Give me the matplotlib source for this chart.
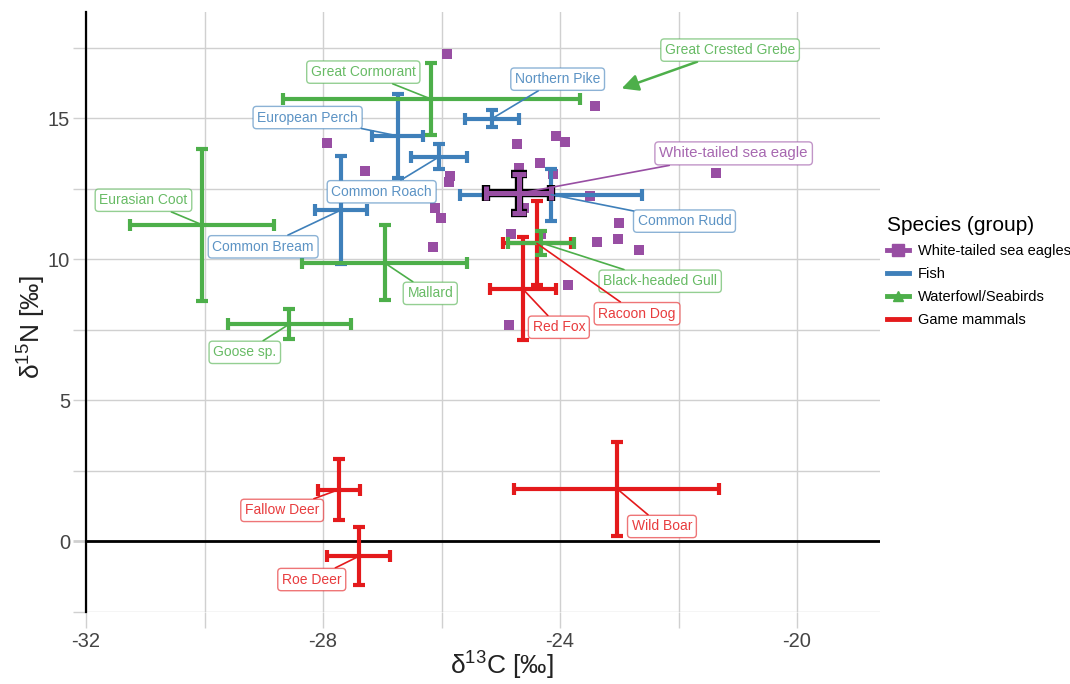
# Stable isotope biplot: white-tailed sea eagles and their prey groups

import numpy as np
import matplotlib
matplotlib.use('Agg')
import matplotlib.pyplot as plt
from matplotlib.lines import Line2D
from matplotlib.colors import to_rgba

plt.rcParams['font.family'] = ['Liberation Sans', 'DejaVu Sans']
plt.rcParams['mathtext.fontset'] = 'custom'
plt.rcParams['mathtext.rm'] = 'Liberation Sans'
plt.rcParams['mathtext.it'] = 'Liberation Sans:italic'

# individual eagles
eagle_c13 = [-25.91, -27.94, -27.29, -25.85, -25.87, -26.11, -26.01, -26.14, -23.41,
             -24.73, -24.06, -23.92, -24.34, -24.70, -24.12, -21.37, -23.49, -24.60,
             -23.00, -24.83, -23.38, -23.03, -22.66, -24.32, -23.86, -24.86]
eagle_n15 = [17.28, 14.12, 13.13, 12.95, 12.73, 11.82, 11.46, 10.44, 15.43,
             14.10, 14.37, 14.14, 13.41, 13.24, 13.01, 13.06, 12.24, 11.80,
             11.27, 10.91, 10.61, 10.70, 10.34, 10.89, 9.08, 7.68]

# eagle mean +- sd
eagle_mean_c13 = -24.70
eagle_mean_n15 = 12.33
eagle_sd_c13 = 0.55
eagle_sd_n15 = 0.70

# fish
fish_names = ['European Perch', 'Common Roach', 'Common Bream', 'Northern Pike', 'Common Rudd']
fish_c13 = [-26.74, -26.04, -27.70, -25.15, -24.15]
fish_c13_sd = [0.43, 0.47, 0.44, 0.46, 1.53]
fish_n15 = [14.37, 13.63, 11.74, 14.98, 12.29]
fish_n15_sd = [1.48, 0.44, 1.91, 0.31, 0.92]

# waterfowl / seabirds
bird_names = ['Great Cormorant', 'Eurasian Coot', 'Mallard', 'Goose sp.', 'Black-headed Gull']
bird_c13 = [-26.17, -30.04, -26.96, -28.57, -24.32]
bird_c13_sd = [2.50, 1.22, 1.39, 1.04, 0.55]
bird_n15 = [15.67, 11.22, 9.87, 7.70, 10.58]
bird_n15_sd = [1.28, 2.69, 1.33, 0.53, 0.43]

# great crested grebe (mean only)
grebe_c13 = -22.96
grebe_n15 = 16.05

# game mammals
game_names = ['Red Fox', 'Racoon Dog', 'Fallow Deer', 'Roe Deer', 'Wild Boar']
game_c13 = [-24.63, -24.39, -27.73, -27.40, -23.04]
game_c13_sd = [0.56, 0.58, 0.35, 0.53, 1.73]
game_n15 = [8.95, 10.56, 1.84, -0.53, 1.87]
game_n15_sd = [1.82, 1.49, 1.09, 1.03, 1.67]

# where the label boxes sit (data coords)
label_pos = {
	'Great Cormorant': (-27.32, 16.63),
	'European Perch': (-28.26, 15.02),
	'Common Roach': (-27.01, 12.39),
	'Eurasian Coot': (-31.03, 12.09),
	'Common Bream': (-29.01, 10.44),
	'Mallard': (-26.19, 8.79),
	'Goose sp.': (-29.32, 6.70),
	'Northern Pike': (-24.04, 16.38),
	'Common Rudd': (-21.90, 11.35),
	'Black-headed Gull': (-22.31, 9.22),
	'Racoon Dog': (-22.70, 8.07),
	'Red Fox': (-24.02, 7.59),
	'Fallow Deer': (-28.69, 1.10),
	'Roe Deer': (-28.19, -1.35),
	'Wild Boar': (-22.28, 0.53),
}
grebe_label_pos = (-21.13, 17.41)
eagle_label_pos = (-21.07, 13.75)

c_eagle = '#984EA3'
c_fish = '#3F80BA'
c_bird = '#4DAF4A'
c_game = '#E41A1C'
grid_c = '#d0d0d0'

fig = plt.figure(figsize=(10.7, 6.84), dpi=100)
ax = fig.add_axes([86/1070, 72/684, 794/1070, 600/684])

ax.set_xlim(-32, -18.6)
ax.set_ylim(-2.5, 18.76)

# grid + ticks every 2 / 2.5, labels every other
xt = np.arange(-32, -19, 2)
yt = np.arange(-2.5, 18.6, 2.5)
ax.set_xticks(xt)
ax.set_xticklabels([str(int(v)) if v % 4 == 0 else '' for v in xt])
ax.set_yticks(yt)
ax.set_yticklabels([str(int(v)) if v % 5 == 0 else '' for v in yt])
ax.grid(True, color=grid_c, lw=1)
ax.set_axisbelow(True)
ax.tick_params(axis='x', length=11.5, width=1, color=grid_c, labelsize=14.5, labelcolor='#444444', pad=3)
ax.tick_params(axis='y', length=9.5, width=1, color=grid_c, labelsize=14.5, labelcolor='#444444', pad=2)
for t in ax.yaxis.get_major_ticks():
	if abs(t.get_loc()) < 1e-9:
		t.tick1line.set_color('black')
		t.tick1line.set_markeredgewidth(2)

for s in ['top', 'right', 'bottom']:
	ax.spines[s].set_visible(False)
ax.spines['left'].set_color('black')
ax.spines['left'].set_linewidth(1.6)
ax.axhline(0, color='black', lw=2, zorder=1.5)

# eagles
ax.scatter(eagle_c13, eagle_n15, marker='s', s=62, color=c_eagle, lw=0, zorder=2)

eb = dict(fmt='none', elinewidth=3, capsize=4.5, capthick=3)
ax.errorbar(game_c13, game_n15, xerr=game_c13_sd, yerr=game_n15_sd, ecolor=c_game, zorder=3, **eb)
ax.errorbar(fish_c13, fish_n15, xerr=fish_c13_sd, yerr=fish_n15_sd, ecolor=c_fish, zorder=4, **eb)
ax.errorbar(bird_c13, bird_n15, xerr=bird_c13_sd, yerr=bird_n15_sd, ecolor=c_bird, zorder=5, **eb)

# eagle mean, outlined
ax.errorbar([eagle_mean_c13], [eagle_mean_n15], xerr=[eagle_sd_c13], yerr=[eagle_sd_n15],
	fmt='none', ecolor='black', elinewidth=6, capsize=5.8, capthick=6, zorder=6)
ax.errorbar([eagle_mean_c13], [eagle_mean_n15], xerr=[eagle_sd_c13], yerr=[eagle_sd_n15],
	fmt='none', ecolor=c_eagle, elinewidth=3.6, capsize=5, capthick=3.6, zorder=7)

# labels
def add_label(name, xy, pos, col, size=10):
	ax.annotate(name, xy=xy, xytext=pos, ha='center', va='center', fontsize=size,
		color=to_rgba(col, 0.85), zorder=10,
		bbox=dict(boxstyle='round,pad=0.3,rounding_size=0.25', fc='white', ec=to_rgba(col, 0.6), lw=1),
		arrowprops=dict(arrowstyle='-', color=col, lw=1.2, shrinkA=0, shrinkB=0))

for names, xs, ys, col in [(fish_names, fish_c13, fish_n15, c_fish),
		(bird_names, bird_c13, bird_n15, c_bird),
		(game_names, game_c13, game_n15, c_game)]:
	for n, x, y in zip(names, xs, ys):
		add_label(n, (x, y), label_pos[n], col)

add_label('White-tailed sea eagle', (eagle_mean_c13, eagle_mean_n15), eagle_label_pos, c_eagle, size=10.8)

ax.annotate('Great Crested Grebe', xy=(grebe_c13, grebe_n15), xytext=grebe_label_pos,
	ha='center', va='center', fontsize=10, color=to_rgba(c_bird, 0.85), zorder=10,
	bbox=dict(boxstyle='round,pad=0.3,rounding_size=0.25', fc='white', ec=to_rgba(c_bird, 0.6), lw=1),
	arrowprops=dict(arrowstyle='-|>,head_length=1.0,head_width=0.5', color=c_bird, lw=1.8,
		shrinkA=0, shrinkB=0))

# axis titles
ax.set_xlabel('δ$^{13}$C [‰]', fontsize=19, color='#222222')
ax.xaxis.set_label_coords(0.524, -0.063)
ax.set_ylabel('δ$^{15}$N [‰]', fontsize=19, color='#222222')
ax.yaxis.set_label_coords(-0.048, 0.475)

# legend
handles = [Line2D([], [], color=c_eagle, lw=3.5, marker='s', markersize=8),
	Line2D([], [], color=c_fish, lw=3.5),
	Line2D([], [], color=c_bird, lw=3.5, marker='^', markersize=7),
	Line2D([], [], color=c_game, lw=3.5)]
labels = ['White-tailed sea eagles', 'Fish', 'Waterfowl/Seabirds', 'Game mammals']
fig.legend(handles, labels, title='Species (group)', loc='upper left',
	bbox_to_anchor=(887/1070, 1 - 216/684), frameon=False, alignment='left',
	fontsize=10.5, title_fontsize=15, handlelength=1.5, handletextpad=0.6,
	labelspacing=0.62, borderpad=0, borderaxespad=0)

fig.savefig('out.png', dpi=100)
